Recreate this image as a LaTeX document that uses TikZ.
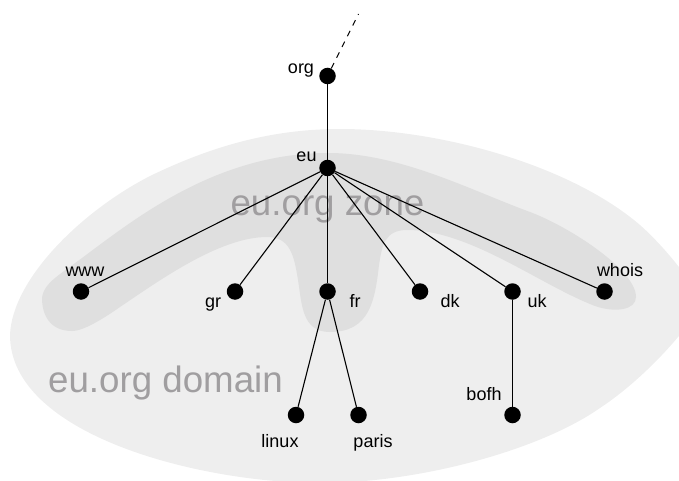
\documentclass[tikz,border=0pt]{standalone}
\usepackage{fontspec}
\setmainfont{Liberation Sans}
\definecolor{domainfill}{HTML}{EEEEEE}
\definecolor{zonefill}{HTML}{DFDFDF}
\definecolor{zonetext}{HTML}{A09EA0}
\tikzset{
    host/.style={circle, fill=black, inner sep=0pt, minimum size=16.5pt},
    hostlabel/.style={anchor=base, inner sep=0pt, font=\fontsize{18}{20}\selectfont},
    arealabel/.style={anchor=base, inner sep=0pt, text=zonetext, font=\fontsize{36.7}{40}\selectfont},
    link/.style={line width=1.1pt}
}
\begin{document}
\begin{tikzpicture}[x=1pt, y=-1pt]
    \useasboundingbox (0, 0) rectangle (679, 481);
    \clip (0, 0) rectangle (679, 481);

    % shaded areas
    \fill[domainfill] (10, 335) .. controls (12, 280) and (80, 212) .. (150, 176)
        .. controls (210, 147) and (270, 129) .. (340, 129)
        .. controls (440, 129) and (570, 165) .. (640, 225)
        .. controls (665, 247) and (700, 290) .. (700, 305)
        .. controls (695, 320) and (650, 375) .. (600, 408)
        .. controls (540, 450) and (420, 483) .. (320, 483)
        .. controls (200, 483) and (10, 435) .. (10, 335) -- cycle;
    \fill[zonefill] (42, 298) .. controls (44, 282) and (60, 275) .. (90, 252)
        .. controls (140, 215) and (220, 153) .. (328, 153)
        .. controls (400, 153) and (470, 190) .. (530, 212)
        .. controls (570, 227) and (636, 270) .. (636, 297)
        .. controls (636, 310) and (615, 313) .. (595, 306)
        .. controls (540, 285) and (470, 230) .. (407, 230)
        .. controls (385, 230) and (382, 245) .. (379, 265)
        .. controls (375, 300) and (370, 332) .. (330, 332)
        .. controls (302, 332) and (302, 305) .. (298, 280)
        .. controls (294, 255) and (290, 237) .. (267, 237)
        .. controls (220, 237) and (160, 280) .. (120, 307)
        .. controls (90, 328) and (78, 331) .. (72, 331)
        .. controls (50, 331) and (42, 315) .. (42, 298) -- cycle;

    \node[arealabel] (zonetext) at (327.5, 215) {eu.org zone};
    \node[arealabel] (domaintext) at (165.5, 392) {eu.org domain};

    \coordinate (up) at (358.5, 14);
    \node[host] (org) at (327.5, 76) {};
    \node[host] (eu) at (327.5, 168) {};
    \node[host] (www) at (81, 291.5) {};
    \node[host] (gr) at (235, 291.5) {};
    \node[host] (fr) at (327.5, 291.5) {};
    \node[host] (dk) at (420, 291.5) {};
    \node[host] (uk) at (512.5, 291.5) {};
    \node[host] (whois) at (604.5, 291.5) {};
    \node[host] (linux) at (296, 415) {};
    \node[host] (paris) at (358.5, 415) {};
    \node[host] (bofh) at (512.5, 415) {};

    \draw[link, dashed, dash pattern=on 6pt off 6pt] (org) -- (up);
    \draw[link] (org) -- (eu);
    \draw[link] (eu) -- (www);
    \draw[link] (eu) -- (gr);
    \draw[link] (eu) -- (fr);
    \draw[link] (eu) -- (dk);
    \draw[link] (eu) -- (uk);
    \draw[link] (eu) -- (whois);
    \draw[link] (fr) -- (linux);
    \draw[link] (fr) -- (paris);
    \draw[link] (uk) -- (bofh);

    \node[hostlabel] (orgtext) at (301, 74) {org};
    \node[hostlabel] (eutext) at (306.5, 161.5) {eu};
    \node[hostlabel] (wwwtext) at (85, 276) {www};
    \node[hostlabel] (grtext) at (213, 307) {gr};
    \node[hostlabel] (frtext) at (355, 307) {fr};
    \node[hostlabel] (dktext) at (450, 307) {dk};
    \node[hostlabel] (uktext) at (537, 307) {uk};
    \node[hostlabel] (whoistext) at (620, 276) {whois};
    \node[hostlabel] (linuxtext) at (280, 447) {linux};
    \node[hostlabel] (paristext) at (373, 447) {paris};
    \node[hostlabel] (bofhtext) at (484, 400) {bofh};
\end{tikzpicture}
\end{document}
